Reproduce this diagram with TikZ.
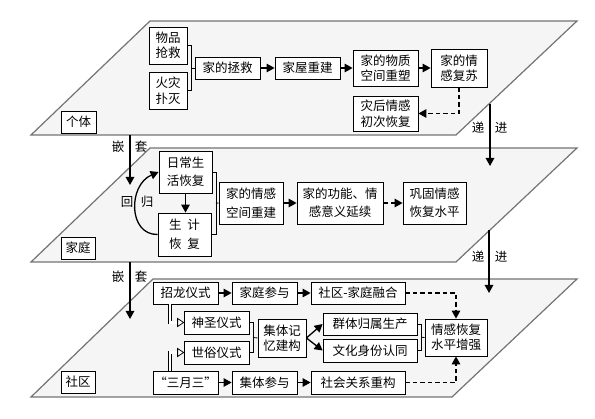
\documentclass[tikz,border=0pt]{standalone}
\usepackage{fontspec}
\setmainfont{Liberation Serif}
\newfontfamily\cjk{Noto Sans CJK SC}
\usetikzlibrary{arrows.meta,calc}
\begin{document}
\begin{tikzpicture}[x=1pt,y=-1pt,
 layer/.style={draw=black!55, line width=1.2pt, fill=black!4},
 box/.style={draw, line width=0.8pt, fill=white, inner sep=0pt, align=center, font=\cjk\fontsize{12.5}{15.5}\selectfont},
 boxw/.style={box, font=\cjk\fontsize{12.5}{18.5}\selectfont},
 arr/.style={line width=1.3pt, -{Triangle[length=8pt,width=8.5pt]}},
 darr/.style={arr, dash pattern=on 4.5pt off 3pt},
 brk/.style={line width=0.8pt},
 lbl/.style={font=\cjk\fontsize{12.5}{15}\selectfont, inner sep=0pt},
 dblline/.style={double, double distance=2.2pt, line width=0.8pt},
 openhead/.style={draw, line width=0.8pt, fill=white, line join=miter}]
\useasboundingbox (0,0) rectangle (595,419);
% layers
\draw[layer] (31,135) -- (456,135) -- (577,21) -- (150,21) -- cycle;
\draw[layer] (31,262) -- (456,262) -- (577,148) -- (150,148) -- cycle;
\draw[layer] (31,397) -- (452,397) -- (577,279) -- (153,279) -- cycle;
% layer labels
\node[box, minimum width=35pt, minimum height=22pt] (l1) at (78.5,122) {个体};
\node[box, minimum width=34pt, minimum height=22pt] (l2) at (78,248) {家庭};
\node[box, minimum width=34pt, minimum height=22pt] (l3) at (78,382) {社区};
% top layer
\node[box, minimum width=38pt, minimum height=37pt] (a1) at (168,45.5) {物品\\抢救};
\node[box, minimum width=38pt, minimum height=37pt] (a2) at (168,90.5) {火灾\\扑灭};
\node[box, minimum width=65pt, minimum height=22pt] (a3) at (227.5,68) {家的拯救};
\node[box, minimum width=65pt, minimum height=22pt] (a4) at (307.5,68) {家屋重建};
\node[box, minimum width=65pt, minimum height=36pt] (a5) at (385.5,68) {家的物质\\空间重塑};
\node[box, minimum width=56pt, minimum height=38pt] (a6) at (459,68) {家的情\\感复苏};
\node[box, minimum width=65pt, minimum height=35pt] (a7) at (385.5,113.5) {灾后情感\\初次恢复};
\draw[brk] (a1.east) -- ++(4,0) coordinate (k1) -- (k1 |- a2.east) coordinate (k2) -- (a2.east);
\draw[brk] ($(k1)!0.5!(k2)$) -- (a3.west);
\draw[arr] (a3.east) -- (a4.west);
\draw[arr] (a4.east) -- (a5.west);
\draw[arr] (a5.east) -- (a6.west);
\draw[darr] (a6.south) |- (a7.east);
% middle layer
\node[boxw, minimum width=53pt, minimum height=42pt] (b1) at (185.5,172) {日常生\\活恢复};
\node[boxw, minimum width=53pt, minimum height=43pt] (b2) at (184.5,234.5) {生\ \ 计\\恢\ \ 复};
\node[boxw, minimum width=64pt, minimum height=42pt] (b3) at (251,203) {家的情感\\空间重建};
\node[boxw, minimum width=86pt, minimum height=42pt] (b4) at (340,203) {家的功能、情\\感意义延续};
\node[boxw, minimum width=63pt, minimum height=42pt] (b5) at (434.5,203) {巩固情感\\恢复水平};
\draw[brk] (b1.east) -- ++(3.5,0) coordinate (k3) -- (k3 |- b2.east) coordinate (k4) -- (b2.east);
\draw[brk] ($(k3)!0.5!(k4)$) -- (b3.west);
\draw[arr] (b1.south) -- (b1.south |- b2.north);
\draw[arr] (b2.west) .. controls (128,235) and (128,185) .. (b1.west);
\node[lbl] (h1) at (127,202) {回};
\node[lbl] (h2) at (147,202) {归};
\draw[arr] (b3.east) -- (b4.west);
\draw[darr] (b4.east) -- (b5.west);
% bottom layer
\node[box, minimum width=65pt, minimum height=22pt] (c1) at (185.5,293) {招龙仪式};
\node[box, minimum width=65pt, minimum height=22pt] (c2) at (264.5,293) {家庭参与};
\node[box, minimum width=94pt, minimum height=22pt] (c3) at (358,293) {社区-家庭融合};
\node[box, minimum width=65pt, minimum height=23pt] (c4) at (216.5,322.5) {神圣仪式};
\node[box, minimum width=65pt, minimum height=23pt] (c5) at (216.5,352.5) {世俗仪式};
\node[box, minimum width=48pt, minimum height=38pt] (c6) at (282,338) {集体记\\忆建构};
\node[box, minimum width=94pt, minimum height=22pt] (c7) at (370,324) {群体归属生产};
\node[box, minimum width=94pt, minimum height=23pt] (c8) at (370,350.5) {文化身份认同};
\node[box, minimum width=62pt, minimum height=37pt] (c9) at (456,337.5) {情感恢复\\水平增强};
\node[box, minimum width=65pt, minimum height=23pt] (c10) at (185.5,382.5) {“三月三”};
\node[box, minimum width=65pt, minimum height=23pt] (c11) at (264.5,382.5) {集体参与};
\node[box, minimum width=94pt, minimum height=23pt] (c12) at (358,382.5) {社会关系重构};
\draw[arr] (c1.east) -- (c2.west);
\draw[arr] (c2.east) -- (c3.west);
\draw[arr] (c10.east) -- (c11.west);
\draw[arr] (c11.east) -- (c12.west);
% double-line (hollow) arrows
\draw[dblline] ($(c1.south west)+(17,0)$) |- ($(c4.west)+(-5.5,0)$);
\draw[openhead] (c4.west) -- ++(-6,-4) -- ++(0,8) -- cycle;
\draw[dblline] ($(c10.north west)+(17,0)$) |- ($(c5.west)+(-5.5,0)$);
\draw[openhead] (c5.west) -- ++(-6,-4) -- ++(0,8) -- cycle;
\draw[brk] (c4.east) -- ++(4,0) coordinate (k5) -- (k5 |- c5.east) coordinate (k6) -- (c5.east);
\draw[brk] ($(k5)!0.5!(k6)$) -- (c6.west);
\draw[arr] (c6.east) -- (c7.west);
\draw[arr] (c6.east) -- (c8.west);
\draw[brk] (c7.east) -- ++(4,0) coordinate (k7) -- (k7 |- c8.east) coordinate (k8) -- (c8.east);
\draw[brk] ($(k7)!0.5!(k8)$) -- (c9.west);
\draw[darr] (c3.east) -| (c9.north);
\draw[darr] (c12.east) -| (c9.south);
% between layers
\coordinate (n1s) at (130,135); \coordinate (n1e) at (130,185);
\coordinate (n2s) at (130,262); \coordinate (n2e) at (130,319);
\coordinate (p1s) at (490,104); \coordinate (p1e) at (490,166);
\coordinate (p2s) at (489,230); \coordinate (p2e) at (489,293);
\draw[arr] (n1s) -- (n1e);
\draw[arr] (n2s) -- (n2e);
\draw[arr] (p1s) -- (p1e);
\draw[arr] (p2s) -- (p2e);
\node[lbl] (t1) at (118,147) {嵌};
\node[lbl] (t2) at (141,147) {套};
\node[lbl] (t3) at (118,277) {嵌};
\node[lbl] (t4) at (141,277) {套};
\node[lbl] (t5) at (478,128) {递};
\node[lbl] (t6) at (501,128) {进};
\node[lbl] (t7) at (478,257) {递};
\node[lbl] (t8) at (501,257) {进};
\end{tikzpicture}
\end{document}
